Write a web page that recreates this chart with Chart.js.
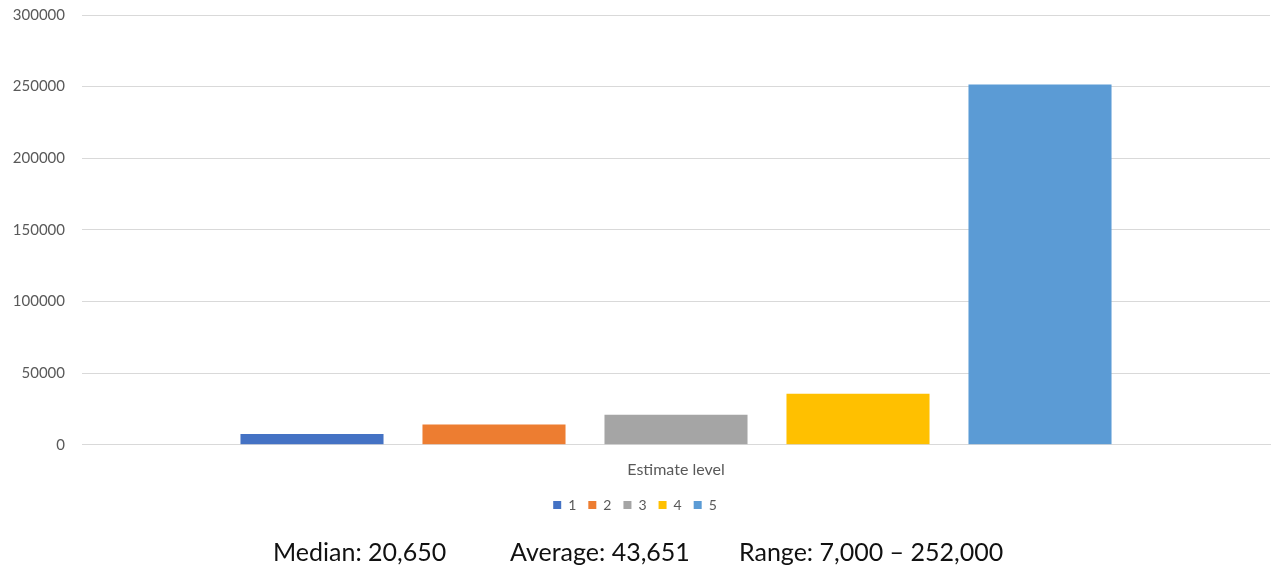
<!DOCTYPE html>
<html>
<head>
<meta charset="utf-8">
<script src="https://cdn.jsdelivr.net/npm/chart.js@4/dist/chart.umd.min.js"></script>
<style>
  html, body { margin: 0; padding: 0; background: #fff; }
  #wrap { position: relative; width: 1275px; height: 572px; }
  #stats {
    position: absolute; left: 0; top: 536px; width: 1275px; height: 36px;
    font-family: Lato, "Open Sans", sans-serif; font-size: 25px; color: #111;
  }
  #stats span { position: absolute; top: 0; white-space: nowrap; }
</style>
</head>
<body>
<div id="wrap">
  <canvas id="chartCanvas" width="1275" height="572"></canvas>
  <div id="stats">
    <span style="left:273px">Median: 20,650</span>
    <span style="left:510px">Average: 43,651</span>
    <span style="left:739px">Range: 7,000 – 252,000</span>
  </div>
</div>
<script>
const categories = ['Estimate level'];
const seriesNames = ['1', '2', '3', '4', '5'];
const seriesValues = [7500, 14200, 21000, 35600, 251500];
const seriesColors = ['#4472C4', '#ED7D31', '#A5A5A5', '#FFC000', '#5B9BD5'];
const yTicks = [0, 50000, 100000, 150000, 200000, 250000, 300000];

document.addEventListener('DOMContentLoaded', () => {
    const ctx = document.getElementById('chartCanvas').getContext('2d');
    Chart.defaults.font.family = 'Lato, "Open Sans", sans-serif';

    const datasets = seriesNames.map((name, i) => ({
        label: name,
        data: [seriesValues[i]],
        backgroundColor: seriesColors[i],
        borderWidth: 0,
        categoryPercentage: 0.766,
        barPercentage: 0.786
    }));

    new Chart(ctx, {
        type: 'bar',
        data: { labels: categories, datasets: datasets },
        options: {
            responsive: false,
            animation: false,
            layout: { padding: { top: 15, right: 5, left: 0, bottom: 50 } },
            plugins: {
                tooltip: { enabled: false },
                legend: {
                    position: 'bottom',
                    labels: {
                        boxWidth: 8, boxHeight: 8, padding: 12,
                        color: '#595959', font: { size: 14 }
                    }
                }
            },
            scales: {
                x: {
                    grid: { display: false },
                    border: { display: true, color: '#d9d9d9', width: 1 },
                    ticks: { color: '#595959', font: { size: 16 }, padding: 7 }
                },
                y: {
                    min: 0, max: 300000,
                    afterBuildTicks: axis => { axis.ticks = yTicks.map(v => ({ value: v })); },
                    afterFit: axis => {
                        axis.width = 82;
                        // tick padding would otherwise push the plot top down
                        axis.paddingTop = 0;
                        axis.paddingBottom = 0;
                    },
                    grid: { color: '#d9d9d9', drawTicks: false },
                    border: { display: false },
                    ticks: {
                        color: '#595959', font: { size: 15 }, padding: 17,
                        callback: v => String(v)
                    }
                }
            }
        }
    });
});
</script>
</body>
</html>
